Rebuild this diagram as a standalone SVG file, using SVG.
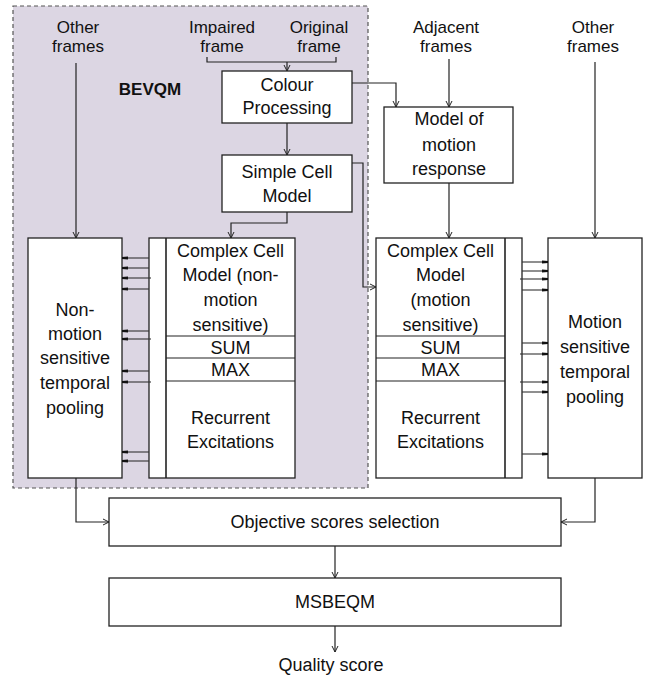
<svg xmlns="http://www.w3.org/2000/svg" width="646" height="677" viewBox="0 0 646 677">
<defs>
<style>
text{font-family:"Liberation Sans",Arial,sans-serif;font-size:18px;fill:#111;text-anchor:middle}
.in{font-size:17px}
.box{fill:#fff;stroke:#222;stroke-width:1.3}
.ln{fill:none;stroke:#222;stroke-width:1.2}
.tk{fill:none;stroke:#333;stroke-width:1.1}
.arr{marker-end:url(#open)}
.tka{marker-end:url(#solid)}
</style>
<marker id="open" viewBox="0 0 8 8" refX="7" refY="4" markerWidth="8" markerHeight="8" markerUnits="userSpaceOnUse" orient="auto">
<path d="M1,1 L7,4 L1,7" fill="none" stroke="#222" stroke-width="1"/>
</marker>
<marker id="solid" viewBox="0 0 6 4" refX="6" refY="2" markerWidth="6" markerHeight="4" markerUnits="userSpaceOnUse" orient="auto">
<path d="M0,0.5 L6,1 L6,3 L0,3.5 Z" fill="#111"/>
</marker>
</defs>

<g id="bevqm-region">
<rect x="13" y="6" width="355" height="482" fill="#dcd6e3" stroke="#555" stroke-width="1.2" stroke-dasharray="4,3"/>
<text x="150" y="95" style="font-weight:bold;font-size:17px">BEVQM</text>
</g>

<g id="inputs">
<text class="in" x="78" y="33">Other</text><text class="in" x="78" y="52">frames</text>
<text class="in" x="222" y="33">Impaired</text><text class="in" x="222" y="52">frame</text>
<text class="in" x="319" y="33">Original</text><text class="in" x="319" y="52">frame</text>
<text class="in" x="446" y="33">Adjacent</text><text class="in" x="446" y="52">frames</text>
<text class="in" x="593" y="33">Other</text><text class="in" x="593" y="52">frames</text>
</g>

<g id="colour-processing">
<rect class="box" x="222" y="71" width="130" height="52"/>
<text x="287" y="91">Colour</text><text x="287" y="114">Processing</text>
</g>

<g id="simple-cell">
<rect class="box" x="222" y="155" width="130" height="57"/>
<text x="287" y="178">Simple Cell</text><text x="287" y="202">Model</text>
</g>

<g id="motion-response">
<rect class="box" x="384" y="107" width="129" height="76"/>
<text x="449" y="125">Model of</text><text x="449" y="151">motion</text><text x="449" y="175">response</text>
</g>

<g id="nonmotion-pooling">
<rect class="box" x="28" y="238" width="94" height="240"/>
<text x="75" y="316">Non-</text><text x="75" y="340">motion</text><text x="75" y="364">sensitive</text><text x="75" y="389">temporal</text><text x="75" y="414">pooling</text>
</g>

<g id="complex-nonmotion">
<rect class="box" x="149" y="238" width="146" height="240"/>
<line class="ln" x1="166" y1="238" x2="166" y2="478" style="stroke-width:1.6"/>
<line class="ln" x1="166" y1="336" x2="295" y2="336"/>
<line class="ln" x1="166" y1="358" x2="295" y2="358"/>
<line class="ln" x1="166" y1="381" x2="295" y2="381"/>
<text x="230.5" y="257">Complex Cell</text><text x="230.5" y="281">Model (non-</text><text x="230.5" y="306">motion</text><text x="230.5" y="331">sensitive)</text>
<text x="230.5" y="354">SUM</text><text x="230.5" y="376">MAX</text>
<text x="230.5" y="424">Recurrent</text><text x="230.5" y="448">Excitations</text>
</g>

<g id="complex-motion">
<rect class="box" x="376" y="238" width="146" height="240"/>
<line class="ln" x1="505" y1="238" x2="505" y2="478" style="stroke-width:1.6"/>
<line class="ln" x1="376" y1="336" x2="505" y2="336"/>
<line class="ln" x1="376" y1="358" x2="505" y2="358"/>
<line class="ln" x1="376" y1="381" x2="505" y2="381"/>
<text x="440.5" y="257">Complex Cell</text><text x="440.5" y="281">Model</text><text x="440.5" y="306">(motion</text><text x="440.5" y="331">sensitive)</text>
<text x="440.5" y="354">SUM</text><text x="440.5" y="376">MAX</text>
<text x="440.5" y="424">Recurrent</text><text x="440.5" y="448">Excitations</text>
</g>

<g id="motion-pooling">
<rect class="box" x="548" y="238" width="94" height="240"/>
<text x="595" y="328">Motion</text><text x="595" y="353">sensitive</text><text x="595" y="378">temporal</text><text x="595" y="403">pooling</text>
</g>

<g id="objective-selection">
<rect class="box" x="109" y="498" width="452" height="48"/>
<text x="335" y="528">Objective scores selection</text>
</g>

<g id="msbeqm">
<rect class="box" x="109" y="578" width="452" height="48"/>
<text x="335" y="608">MSBEQM</text>
</g>

<g id="output">
<text x="331" y="671">Quality score</text>
</g>

<g id="connectors">
<path class="ln" d="M207,57 V62 H336 V57"/>
<path class="ln arr" d="M287,62 V71"/>
<path class="ln arr" d="M76,63 V238"/>
<path class="ln arr" d="M352,83 H396 V107"/>
<path class="ln arr" d="M449,59 V107"/>
<path class="ln arr" d="M595,62 V238"/>
<path class="ln arr" d="M287,123 V155"/>
<path class="ln arr" d="M287,212 V223 H231 V238"/>
<path class="ln arr" d="M352,163 H363 V287 H376"/>
<path class="ln arr" d="M449,183 V238"/>
<path class="ln arr" d="M76,478 V522 H109"/>
<path class="ln arr" d="M595,478 V522 H561"/>
<path class="ln arr" d="M335,546 V578"/>
<path class="ln arr" d="M335,626 V652"/>
<g id="ticks-left">
<path class="tk tka" d="M149,258 H122"/>
<path class="tk tka" d="M149,268 H122"/>
<path class="tk tka" d="M151,278 H122"/>
<path class="tk tka" d="M149,289 H122"/>
<path class="tk tka" d="M149,331 H122"/>
<path class="tk tka" d="M151,339 H122"/>
<path class="tk tka" d="M149,371 H122"/>
<path class="tk tka" d="M151,382 H122"/>
<path class="tk tka" d="M149,452 H122"/>
<path class="tk tka" d="M149,461 H122"/>
</g>
<g id="ticks-right">
<path class="tk tka" d="M522,262 H548"/>
<path class="tk tka" d="M522,271 H548"/>
<path class="tk tka" d="M520,279 H548"/>
<path class="tk tka" d="M522,290 H548"/>
<path class="tk tka" d="M522,343 H548"/>
<path class="tk tka" d="M520,354 H548"/>
<path class="tk tka" d="M520,382 H548"/>
<path class="tk tka" d="M522,392 H548"/>
<path class="tk tka" d="M522,454 H548"/>
</g>
</g>
</svg>
